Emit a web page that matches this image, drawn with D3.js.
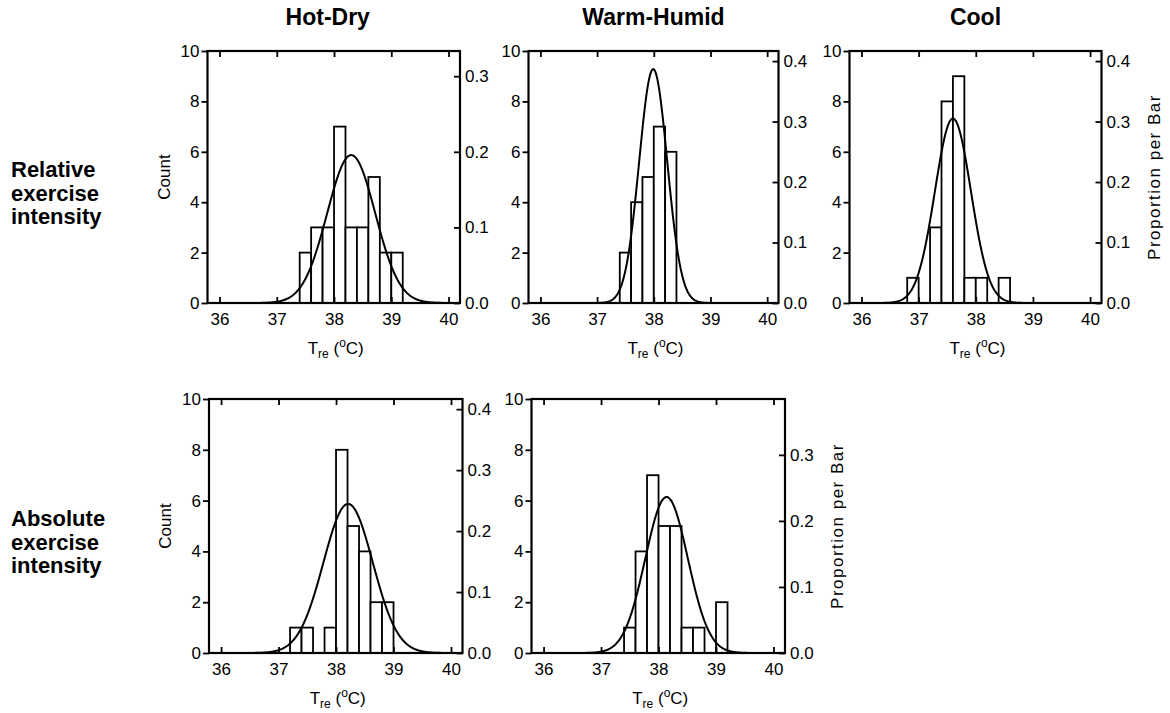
<!DOCTYPE html>
<html>
<head>
<meta charset="utf-8">
<script src="https://cdn.jsdelivr.net/npm/d3@7"></script>
<style>
  body { margin: 0; background: #fff; }
  svg { font-family: "Liberation Sans", Arial, Helvetica, sans-serif; }
</style>
</head>
<body>
<svg id="chart" width="1170" height="713"></svg>
<script>
// ---- data ----
const binWidth = 0.2;
const tempTicks = [36, 37, 38, 39, 40];
const countTicks = [0, 2, 4, 6, 8, 10];
const columnTitles = ["Hot-Dry", "Warm-Humid", "Cool"];
const rowLabels = [["Relative", "exercise", "intensity"], ["Absolute", "exercise", "intensity"]];

// lower edge of each 0.2 degC bin, and the count in it
const hotDryRelEdges   = [37.4, 37.6, 37.8, 38.0, 38.2, 38.4, 38.6, 38.8, 39.0];
const hotDryRelCounts  = [2, 3, 3, 7, 3, 3, 5, 2, 2];
const warmHumRelEdges  = [37.4, 37.6, 37.8, 38.0, 38.2];
const warmHumRelCounts = [2, 4, 5, 7, 6];
const coolRelEdges     = [36.8, 37.0, 37.2, 37.4, 37.6, 37.8, 38.0, 38.2, 38.4];
const coolRelCounts    = [1, 0, 3, 8, 9, 1, 1, 0, 1];
const hotDryAbsEdges   = [37.2, 37.4, 37.6, 37.8, 38.0, 38.2, 38.4, 38.6, 38.8];
const hotDryAbsCounts  = [1, 1, 0, 1, 8, 5, 4, 2, 2];
const warmHumAbsEdges  = [37.4, 37.6, 37.8, 38.0, 38.2, 38.4, 38.6, 38.8, 39.0];
const warmHumAbsCounts = [1, 4, 7, 5, 5, 1, 1, 0, 2];

// right axis ticks (proportion per bar)
const propTicks3 = [0, 0.1, 0.2, 0.3];
const propTicks4 = [0, 0.1, 0.2, 0.3, 0.4];

// fitted normal curves (mean, sd, peak height in counts)
const curveMean = [38.30, 37.99, 37.60, 38.21, 38.14];
const curveSd   = [0.42, 0.247, 0.315, 0.43, 0.37];
const curvePeak = [5.87, 9.28, 7.32, 5.87, 6.14];

// ---- layout ----
const tempDomain = [35.79, 40.2];
const boxes = [
  {left: 207.5, top: 51,  right: 460,    bottom: 303},
  {left: 528.5, top: 51,  right: 778.5,  bottom: 303},
  {left: 849.5, top: 51,  right: 1101.5, bottom: 303},
  {left: 209,   top: 399, right: 462.5,  bottom: 653},
  {left: 531.5, top: 399, right: 785,    bottom: 653}
];

const panels = [
  {edges: hotDryRelEdges,  counts: hotDryRelCounts,  prop: propTicks3, countLabel: true,  propLabel: false},
  {edges: warmHumRelEdges, counts: warmHumRelCounts, prop: propTicks4, countLabel: false, propLabel: false},
  {edges: coolRelEdges,    counts: coolRelCounts,    prop: propTicks4, countLabel: false, propLabel: true},
  {edges: hotDryAbsEdges,  counts: hotDryAbsCounts,  prop: propTicks4, countLabel: true,  propLabel: false},
  {edges: warmHumAbsEdges, counts: warmHumAbsCounts, prop: propTicks3, countLabel: false, propLabel: true}
];

const svg = d3.select("#chart");
const tickFont = 17;

panels.forEach(function(p, i) {
  var b = boxes[i];
  var w = b.right - b.left, h = b.bottom - b.top;
  var n = d3.sum(p.counts);

  var x = d3.scaleLinear().domain(tempDomain).range([0, w]);
  var y = d3.scaleLinear().domain([0, 10]).range([h, 0]);
  var yProp = d3.scaleLinear().domain([0, 10 / n]).range([h, 0]);

  var g = svg.append("g").attr("transform", "translate(" + b.left + "," + b.top + ")");

  g.append("clipPath").attr("id", "clip" + i)
    .append("rect").attr("width", w).attr("height", h);

  // bars
  var bins = p.edges.map(function(e, k) { return {x0: e, count: p.counts[k]}; })
    .filter(function(d) { return d.count > 0; });
  g.append("g").selectAll("rect").data(bins).join("rect")
    .attr("x", function(d) { return x(d.x0); })
    .attr("width", function(d) { return x(d.x0 + binWidth) - x(d.x0); })
    .attr("y", function(d) { return y(d.count); })
    .attr("height", function(d) { return h - y(d.count); })
    .attr("fill", "#fff")
    .attr("stroke", "#000")
    .attr("stroke-width", 1.8);

  // normal curve
  var pts = d3.range(tempDomain[0], tempDomain[1], 0.01).map(function(t) {
    var z = (t - curveMean[i]) / curveSd[i];
    return [t, curvePeak[i] * Math.exp(-0.5 * z * z)];
  });
  g.append("path")
    .datum(pts)
    .attr("clip-path", "url(#clip" + i + ")")
    .attr("fill", "none")
    .attr("stroke", "#000")
    .attr("stroke-width", 2)
    .attr("d", d3.line().x(function(d) { return x(d[0]); }).y(function(d) { return y(d[1]); }));

  // axes
  g.append("g").attr("transform", "translate(0," + h + ")")
    .call(d3.axisBottom(x).tickValues(tempTicks).tickSizeInner(-6).tickSizeOuter(0).tickPadding(10)
      .tickFormat(d3.format("d")));
  g.append("g")
    .call(d3.axisTop(x).tickValues(tempTicks).tickSizeInner(-6).tickSizeOuter(0).tickFormat(""));
  g.append("g")
    .call(d3.axisLeft(y).tickValues(countTicks).tickSizeInner(6).tickSizeOuter(0).tickPadding(2));
  g.append("g").attr("transform", "translate(" + w + ",0)")
    .call(d3.axisRight(yProp).tickValues(p.prop).tickSizeInner(-6).tickSizeOuter(0).tickPadding(5)
      .tickFormat(d3.format(".1f")));

  g.selectAll(".domain").remove();
  g.selectAll(".tick line").attr("stroke", "#000").attr("stroke-width", 1.8);
  g.selectAll(".tick text").attr("fill", "#000").style("font-size", tickFont + "px").attr("font-family", null);

  // frame
  g.append("rect").attr("width", w).attr("height", h)
    .attr("fill", "none").attr("stroke", "#000").attr("stroke-width", 2.2);

  // x title: T_re (oC)
  var xt = g.append("text")
    .attr("x", w / 2 + 2).attr("y", h + 51)
    .attr("text-anchor", "middle")
    .style("font-size", "17px");
  xt.append("tspan").text("T");
  xt.append("tspan").attr("dy", 4).style("font-size", "12px").text("re");
  xt.append("tspan").attr("dy", -4).text(" (");
  xt.append("tspan").attr("dy", -7).style("font-size", "12px").text("o");
  xt.append("tspan").attr("dy", 7).text("C)");

  if (p.countLabel) {
    g.append("text")
      .attr("transform", "translate(-38," + (h / 2) + ") rotate(-90)")
      .attr("text-anchor", "middle")
      .style("font-size", "17px")
      .text("Count");
  }
  if (p.propLabel) {
    g.append("text")
      .attr("transform", "translate(" + (w + 58) + "," + (h / 2) + ") rotate(-90)")
      .attr("text-anchor", "middle")
      .style("font-size", "17px")
      .style("letter-spacing", "1.5px")
      .text("Proportion per Bar");
  }
});

// column titles
columnTitles.forEach(function(t, c) {
  var b = boxes[c];
  svg.append("text")
    .attr("x", (b.left + b.right) / 2 - (c === 0 ? 6 : 0))
    .attr("y", 25)
    .attr("text-anchor", "middle")
    .style("font-size", "23px")
    .style("font-weight", "bold")
    .text(t);
});

// row labels
rowLabels.forEach(function(lines, r) {
  var b = boxes[r * 3];
  var mid = (b.top + b.bottom) / 2;
  var txt = svg.append("text")
    .attr("x", 11)
    .attr("y", mid)
    .style("font-size", "22px")
    .style("font-weight", "bold");
  lines.forEach(function(l, k) {
    txt.append("tspan").attr("x", 11).attr("y", mid + k * 23.5).text(l);
  });
});
</script>
</body>
</html>
